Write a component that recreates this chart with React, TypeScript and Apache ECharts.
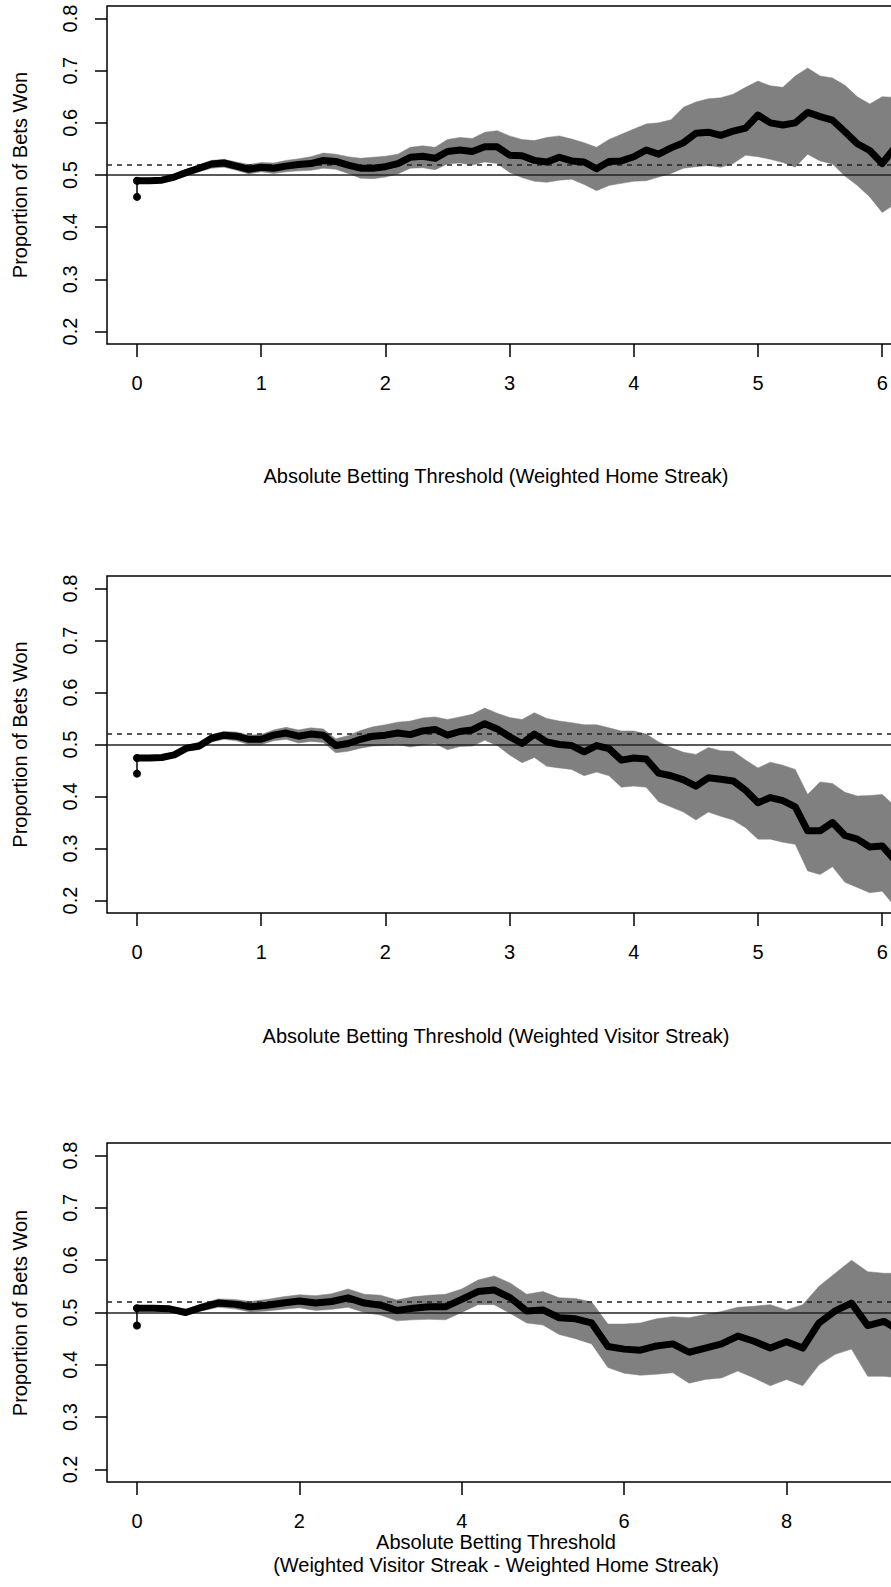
import React, { useEffect, useRef } from "react";
import * as echarts from "echarts";

// Reference lines
const EVEN_LINE = 0.5;
const BREAKEVEN_LINE = 0.5238;

// Tick labels
const yTicks = [0.2, 0.3, 0.4, 0.5, 0.6, 0.7, 0.8];
const xTicksHome = [0, 1, 2, 3, 4, 5, 6];
const xTicksVisitor = [0, 1, 2, 3, 4, 5, 6];
const xTicksDiff = [0, 2, 4, 6, 8];

// Titles
const yTitle = "Proportion of Bets Won";
const xTitleHome = "Absolute Betting Threshold (Weighted Home Streak)";
const xTitleVisitor = "Absolute Betting Threshold (Weighted Visitor Streak)";
const xTitleDiff1 = "Absolute Betting Threshold";
const xTitleDiff2 = "(Weighted Visitor Streak - Weighted Home Streak)";

// Panel 1: Weighted Home Streak
const homeStart = [0.458, 0.489];
const homeX = [0.0, 0.1, 0.2, 0.3, 0.4, 0.5, 0.6, 0.7, 0.8, 0.9, 1.0, 1.1, 1.2, 1.3, 1.4, 1.5, 1.6, 1.7, 1.8, 1.9, 2.0, 2.1, 2.2, 2.3, 2.4, 2.5, 2.6, 2.7, 2.8, 2.9, 3.0, 3.1, 3.2, 3.3, 3.4, 3.5, 3.6, 3.7, 3.8, 3.9, 4.0, 4.1, 4.2, 4.3, 4.4, 4.5, 4.6, 4.7, 4.8, 4.9, 5.0, 5.1, 5.2, 5.3, 5.4, 5.5, 5.6, 5.7, 5.8, 5.9, 6.0, 6.1];
const homeMid = [0.489, 0.489, 0.490, 0.496, 0.505, 0.513, 0.521, 0.523, 0.517, 0.511, 0.515, 0.513, 0.517, 0.520, 0.522, 0.528, 0.526, 0.519, 0.513, 0.513, 0.516, 0.522, 0.534, 0.536, 0.532, 0.545, 0.548, 0.545, 0.554, 0.554, 0.538, 0.537, 0.528, 0.525, 0.534, 0.527, 0.525, 0.512, 0.526, 0.527, 0.535, 0.548, 0.540, 0.552, 0.562, 0.580, 0.582, 0.576, 0.584, 0.590, 0.615, 0.600, 0.596, 0.600, 0.620, 0.612, 0.605, 0.583, 0.560, 0.547, 0.522, 0.552];
const homeUpper = [0.493, 0.493, 0.495, 0.501, 0.511, 0.520, 0.528, 0.530, 0.525, 0.520, 0.524, 0.523, 0.528, 0.531, 0.535, 0.542, 0.540, 0.535, 0.532, 0.534, 0.536, 0.540, 0.553, 0.556, 0.553, 0.568, 0.572, 0.570, 0.582, 0.585, 0.575, 0.568, 0.566, 0.572, 0.575, 0.569, 0.562, 0.553, 0.568, 0.578, 0.588, 0.598, 0.600, 0.606, 0.630, 0.640, 0.646, 0.648, 0.655, 0.668, 0.680, 0.671, 0.668, 0.690, 0.705, 0.690, 0.686, 0.672, 0.650, 0.636, 0.650, 0.649];
const homeLower = [0.485, 0.485, 0.486, 0.491, 0.499, 0.506, 0.513, 0.515, 0.509, 0.502, 0.506, 0.503, 0.506, 0.508, 0.509, 0.513, 0.511, 0.503, 0.494, 0.493, 0.496, 0.502, 0.513, 0.514, 0.510, 0.521, 0.523, 0.519, 0.525, 0.522, 0.505, 0.495, 0.488, 0.486, 0.490, 0.492, 0.482, 0.470, 0.480, 0.484, 0.488, 0.489, 0.496, 0.503, 0.513, 0.516, 0.518, 0.515, 0.522, 0.538, 0.535, 0.530, 0.524, 0.515, 0.540, 0.527, 0.521, 0.498, 0.480, 0.458, 0.428, 0.444];

// Panel 2: Weighted Visitor Streak
const visitorStart = [0.444, 0.474];
const visitorX = [0.0, 0.1, 0.2, 0.3, 0.4, 0.5, 0.6, 0.7, 0.8, 0.9, 1.0, 1.1, 1.2, 1.3, 1.4, 1.5, 1.6, 1.7, 1.8, 1.9, 2.0, 2.1, 2.2, 2.3, 2.4, 2.5, 2.6, 2.7, 2.8, 2.9, 3.0, 3.1, 3.2, 3.3, 3.4, 3.5, 3.6, 3.7, 3.8, 3.9, 4.0, 4.1, 4.2, 4.3, 4.4, 4.5, 4.6, 4.7, 4.8, 4.9, 5.0, 5.1, 5.2, 5.3, 5.4, 5.5, 5.6, 5.7, 5.8, 5.9, 6.0, 6.1];
const visitorMid = [0.474, 0.474, 0.475, 0.480, 0.493, 0.497, 0.512, 0.518, 0.516, 0.510, 0.510, 0.518, 0.522, 0.516, 0.520, 0.518, 0.498, 0.502, 0.510, 0.516, 0.518, 0.522, 0.519, 0.526, 0.529, 0.518, 0.525, 0.528, 0.540, 0.530, 0.515, 0.502, 0.520, 0.505, 0.500, 0.498, 0.486, 0.498, 0.492, 0.470, 0.474, 0.472, 0.445, 0.440, 0.432, 0.420, 0.436, 0.433, 0.430, 0.412, 0.388, 0.398, 0.392, 0.380, 0.334, 0.334, 0.350, 0.325, 0.318, 0.303, 0.305, 0.278];
const visitorUpper = [0.478, 0.478, 0.479, 0.485, 0.499, 0.504, 0.519, 0.525, 0.524, 0.518, 0.519, 0.528, 0.533, 0.528, 0.532, 0.530, 0.511, 0.517, 0.527, 0.534, 0.538, 0.543, 0.545, 0.551, 0.553, 0.548, 0.553, 0.558, 0.570, 0.560, 0.552, 0.548, 0.561, 0.550, 0.545, 0.542, 0.538, 0.538, 0.532, 0.526, 0.526, 0.520, 0.505, 0.494, 0.485, 0.481, 0.494, 0.488, 0.487, 0.470, 0.455, 0.466, 0.460, 0.452, 0.404, 0.428, 0.425, 0.408, 0.401, 0.402, 0.404, 0.382];
const visitorLower = [0.470, 0.470, 0.471, 0.475, 0.487, 0.490, 0.505, 0.510, 0.507, 0.500, 0.500, 0.507, 0.510, 0.503, 0.506, 0.504, 0.484, 0.487, 0.493, 0.497, 0.498, 0.500, 0.495, 0.499, 0.502, 0.490, 0.496, 0.497, 0.508, 0.498, 0.480, 0.465, 0.475, 0.458, 0.455, 0.452, 0.440, 0.447, 0.440, 0.418, 0.420, 0.418, 0.390, 0.380, 0.370, 0.355, 0.370, 0.362, 0.355, 0.340, 0.318, 0.318, 0.312, 0.308, 0.257, 0.250, 0.265, 0.235, 0.225, 0.215, 0.218, 0.189];

// Panel 3: Weighted Visitor Streak - Weighted Home Streak
const diffStart = [0.475, 0.508];
const diffX = [0.0, 0.2, 0.4, 0.6, 0.8, 1.0, 1.2, 1.4, 1.6, 1.8, 2.0, 2.2, 2.4, 2.6, 2.8, 3.0, 3.2, 3.4, 3.6, 3.8, 4.0, 4.2, 4.4, 4.6, 4.8, 5.0, 5.2, 5.4, 5.6, 5.8, 6.0, 6.2, 6.4, 6.6, 6.8, 7.0, 7.2, 7.4, 7.6, 7.8, 8.0, 8.2, 8.4, 8.6, 8.8, 9.0, 9.2, 9.4];
const diffMid = [0.508, 0.508, 0.507, 0.500, 0.510, 0.518, 0.516, 0.511, 0.514, 0.518, 0.522, 0.518, 0.521, 0.528, 0.518, 0.514, 0.504, 0.508, 0.511, 0.511, 0.525, 0.540, 0.543, 0.528, 0.503, 0.505, 0.490, 0.488, 0.480, 0.435, 0.430, 0.428, 0.436, 0.440, 0.424, 0.432, 0.440, 0.455, 0.445, 0.432, 0.444, 0.432, 0.480, 0.503, 0.518, 0.475, 0.483, 0.465];
const diffUpper = [0.512, 0.512, 0.512, 0.506, 0.517, 0.526, 0.525, 0.521, 0.525, 0.530, 0.534, 0.532, 0.536, 0.545, 0.535, 0.533, 0.524, 0.530, 0.533, 0.535, 0.545, 0.562, 0.570, 0.556, 0.535, 0.540, 0.528, 0.527, 0.520, 0.478, 0.478, 0.480, 0.488, 0.492, 0.490, 0.496, 0.502, 0.510, 0.512, 0.515, 0.505, 0.515, 0.550, 0.575, 0.600, 0.578, 0.575, 0.575];
const diffLower = [0.504, 0.504, 0.502, 0.494, 0.503, 0.510, 0.507, 0.501, 0.503, 0.506, 0.509, 0.504, 0.506, 0.510, 0.500, 0.495, 0.484, 0.486, 0.487, 0.486, 0.500, 0.515, 0.515, 0.498, 0.480, 0.476, 0.458, 0.450, 0.440, 0.395, 0.384, 0.380, 0.382, 0.385, 0.365, 0.372, 0.375, 0.388, 0.375, 0.360, 0.372, 0.360, 0.400, 0.420, 0.430, 0.378, 0.378, 0.375];

const FONT = '"Liberation Sans", Arial, Helvetica, sans-serif';

const panels = [
  { top: 6, height: 338, xMin: -0.2415, xMax: 6.24, width: 805, ticks: xTicksHome, x: homeX, mid: homeMid, lo: homeLower, hi: homeUpper, start: homeStart },
  { top: 576, height: 337, xMin: -0.2415, xMax: 6.24, width: 805, ticks: xTicksVisitor, x: visitorX, mid: visitorMid, lo: visitorLower, hi: visitorUpper, start: visitorStart },
  { top: 1143, height: 339, xMin: -0.369, xMax: 9.57, width: 807, ticks: xTicksDiff, x: diffX, mid: diffMid, lo: diffLower, hi: diffUpper, start: diffStart },
];

function buildOption() {
  const grid: any[] = [];
  const xAxis: any[] = [];
  const yAxis: any[] = [];
  const series: any[] = [];
  panels.forEach((p, i) => {
    grid.push({
      left: 107, top: p.top, width: p.width, height: p.height,
      containLabel: false, outerBoundsMode: "none",
      show: true, borderColor: "#000", borderWidth: 1.5, backgroundColor: "transparent",
    });
    xAxis.push({
      type: "value", gridIndex: i, min: p.xMin, max: p.xMax,
      axisLine: { show: false, onZero: false }, splitLine: { show: false },
      axisTick: { show: true, inside: false, length: 13, customValues: p.ticks, lineStyle: { color: "#000", width: 1.5 } },
      axisLabel: { show: true, customValues: p.ticks, margin: 29, color: "#000", fontSize: 20, fontFamily: FONT, formatter: (v: number) => String(v) },
    });
    yAxis.push({
      type: "value", gridIndex: i, min: 0.176, max: 0.824,
      axisLine: { show: false, onZero: false }, splitLine: { show: false },
      axisTick: { show: true, inside: false, length: 12, customValues: yTicks, lineStyle: { color: "#000", width: 1.5 } },
      axisLabel: { show: true, customValues: yTicks, rotate: 90, margin: 27, color: "#000", fontSize: 20, fontFamily: FONT, formatter: (v: number) => v.toFixed(1) },
    });
    const bandRows = p.x.map((x, k) => [x, p.lo[k], p.hi[k]]);
    series.push({
      type: "custom", xAxisIndex: i, yAxisIndex: i, silent: true, z: 1, clip: true,
      encode: { x: 0, y: [1, 2] },
      data: bandRows,
      renderItem: (params: any, api: any) => {
        if (params.dataIndex !== 0) return null;
        const upperPts = bandRows.map((r) => api.coord([r[0], r[2]]));
        const lowerPts = bandRows.map((r) => api.coord([r[0], r[1]])).reverse();
        return {
          type: "polygon",
          shape: { points: upperPts.concat(lowerPts) },
          style: { fill: "#808080", stroke: "#808080", lineWidth: 0.5 },
        };
      },
    });
    series.push({
      type: "line", xAxisIndex: i, yAxisIndex: i, symbol: "none", silent: true, z: 2,
      lineStyle: { opacity: 0 },
      data: [],
      markLine: {
        silent: true, symbol: "none", label: { show: false },
        data: [
          { yAxis: EVEN_LINE, lineStyle: { color: "#222", width: 1.5, type: "solid" } },
          { yAxis: BREAKEVEN_LINE, lineStyle: { color: "#222", width: 1.5, type: [5, 5] } },
        ],
      },
    });
    series.push({
      type: "line", xAxisIndex: i, yAxisIndex: i, symbol: "circle", symbolSize: 8, showSymbol: true, silent: true, z: 10,
      itemStyle: { color: "#000" }, lineStyle: { color: "#000", width: 1.5 },
      data: [[0, p.start[0]], [0, p.start[1]]],
    });
    series.push({
      type: "line", xAxisIndex: i, yAxisIndex: i, symbol: "none", silent: true, z: 11,
      lineStyle: { color: "#000", width: 7, cap: "round", join: "round" },
      data: p.x.map((x, k) => [x, p.mid[k]]),
    });
  });

  const ytitle = (y: number) => ({
    type: "text", x: 20, y, rotation: Math.PI / 2,
    style: { text: yTitle, fill: "#000", font: `20px ${FONT}`, align: "center", verticalAlign: "middle" },
  });
  const xtitle = (text: string, y: number) => ({
    type: "text", x: 496, y,
    style: { text, fill: "#000", font: `20px ${FONT}`, align: "center", verticalAlign: "middle" },
  });

  return {
    animation: false,
    backgroundColor: "#fff",
    grid, xAxis, yAxis, series,
    graphic: [
      ytitle(175), ytitle(744.5), ytitle(1313),
      xtitle(xTitleHome, 476), xtitle(xTitleVisitor, 1036), xtitle(xTitleDiff1, 1542), xtitle(xTitleDiff2, 1565),
    ],
  };
}

export default function App() {
  const ref = useRef<HTMLDivElement>(null);
  useEffect(() => {
    document.body.style.margin = "0";
    if (!ref.current) return;
    const chart = echarts.init(ref.current, undefined, { renderer: "svg" });
    chart.setOption(buildOption() as any);
    return () => chart.dispose();
  }, []);
  return <div ref={ref} style={{ width: 891, height: 1587, overflow: "hidden" }} />;
}
